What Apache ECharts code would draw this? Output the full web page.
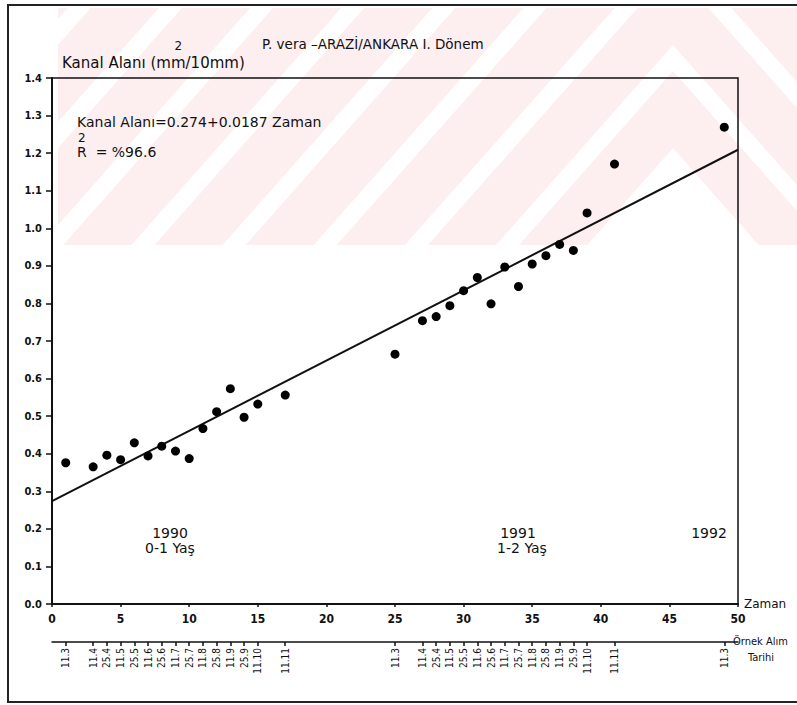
<!DOCTYPE html>
<html>
<head>
<meta charset="UTF-8">
<title>P. vera - Kanal Alanı</title>
<style>
  * { margin: 0; padding: 0; }
  body { background: #fff; }
  #chart { width: 797px; height: 705px; }
</style>
</head>
<body>
<div id="chart"></div>
<script src="https://cdn.jsdelivr.net/npm/echarts@6/dist/echarts.min.js"></script>
<script>
// zaman (örnek alım sırası) ve ölçülen kanal alanı
var times = [1, 3, 4, 5, 6, 7, 8, 9, 10, 11, 12, 13, 14, 15, 17,
  25, 27, 28, 29, 30, 31, 32, 33, 34, 35, 36, 37, 38, 39, 41, 49];
var values = [0.376, 0.365, 0.396, 0.384, 0.429, 0.394, 0.420, 0.407, 0.387, 0.467,
  0.512, 0.573, 0.497, 0.532, 0.556,
  0.665, 0.754, 0.765, 0.794, 0.834, 0.869, 0.799, 0.897, 0.845, 0.905,
  0.927, 0.957, 0.941, 1.041, 1.171, 1.269];
// örnek alım tarihleri (gün.ay)
var dates = ['11.3', '11.4', '25.4', '11.5', '25.5', '11.6', '25.6', '11.7', '25.7', '11.8',
  '25.8', '11.9', '25.9', '11.10', '11.11',
  '11.3', '11.4', '25.4', '11.5', '25.5', '11.6', '25.6', '11.7', '25.7', '11.8',
  '25.8', '11.9', '25.9', '11.10', '11.11', '11.3'];
// regresyon doğrusu uçları
var lineEnds = [[0, 0.274], [50, 1.209]];

var font = '"DejaVu Sans", sans-serif';
var narrow = '"DejaVu Sans Condensed", "DejaVu Sans", sans-serif';
var ink = '#111';

var points = times.map(function(t, i) { return [t, values[i]]; });
var dateOf = {};
times.forEach(function(t, i) { dateOf[t] = dates[i]; });

// üst simge "2" yi yerleştirmek için yazı genişliği
var ctx = document.createElement('canvas').getContext('2d');
function textW(s, size) {
  ctx.font = size + 'px ' + font;
  return ctx.measureText(s).width;
}
var yName = 'Kanal Alanı (mm/10mm)';
var supX = 62 + (textW('Kanal Alanı (m', 15) + textW('Kanal Alanı (mm', 15)) / 2;
var rX = 77 + textW('R', 14) / 2;

// arka plandaki soluk filigran (şerit desen)
var pink = '#fdeef0';
var wm = [{
  type: 'rect', silent: true, z: -20,
  shape: { x: 58, y: 8, width: 739, height: 237 },
  style: { fill: pink }
}];
var k = 1.13, ax = 673;
wm.push({
  type: 'polygon', silent: true, z: -19,
  shape: { points: [[ax, 148], [ax - 97 / k, 245], [ax + 97 / k, 245]] },
  style: { fill: '#fff' }
});
[45, -58, -161, -264, -367, -470, -573, -676].forEach(function(a) {
  var w = 26;
  wm.push({
    type: 'polygon', silent: true, z: -19,
    shape: { points: [
      [ax - (245 - a) / k, 245], [ax, a], [ax + (245 - a) / k, 245],
      [ax + (245 - a - w) / k, 245], [ax, a + w], [ax - (245 - a - w) / k, 245]
    ] },
    style: { fill: '#fff' }
  });
});

function txt(x, y, s, size, align, fam) {
  return {
    type: 'text', z: 10, x: x, y: y,
    style: {
      text: s, fill: ink, font: size + 'px ' + (fam || font),
      textAlign: align || 'left', textVerticalAlign: 'middle',
      align: align || 'left', verticalAlign: 'middle'
    }
  };
}

var myChart = echarts.init(document.getElementById('chart'), null, { renderer: 'svg' });
var option = {
  backgroundColor: '#fff',
  animation: false,
  textStyle: { fontFamily: font, color: ink },
  title: {
    text: 'P. vera –ARAZİ/ANKARA I. Dönem',
    left: 257, top: 32,
    textStyle: { fontSize: 13.5, fontWeight: 'normal', color: ink, fontFamily: font }
  },
  grid: {
    left: 52, right: 59, top: 78, bottom: 101,
    show: true, borderColor: ink, borderWidth: 1.5
  },
  xAxis: [{
    type: 'value', min: 0, max: 50, interval: 5,
    name: 'Zaman', nameLocation: 'end', nameGap: 6,
    nameTextStyle: { fontSize: 12, color: ink, verticalAlign: 'middle', padding: [0, 0, 5, 0] },
    axisLine: { lineStyle: { color: ink, width: 2 } },
    axisTick: { length: 3, lineStyle: { color: ink, width: 1.5 } },
    axisLabel: { color: ink, fontSize: 12, fontWeight: 'bold', margin: 9, fontFamily: narrow },
    splitLine: { show: false }
  }, {
    type: 'value', min: 0, max: 50, position: 'bottom', offset: 38,
    axisLine: { onZero: false, lineStyle: { color: ink, width: 1.5 } },
    axisTick: { customValues: times, length: 4, lineStyle: { color: ink, width: 1.5 } },
    axisLabel: {
      customValues: times, rotate: 90, fontSize: 10, color: ink, margin: 6, fontFamily: narrow,
      formatter: function(v) { return dateOf[v] || ''; }
    },
    splitLine: { show: false }
  }],
  yAxis: {
    type: 'value', min: 0, max: 1.4, interval: 0.1,
    name: yName, nameLocation: 'end', nameGap: 8,
    nameTextStyle: { fontSize: 15, color: ink, align: 'left', padding: [0, 0, 0, 10] },
    axisLine: { lineStyle: { color: ink, width: 2 } },
    axisTick: { length: 6, lineStyle: { color: ink, width: 1.5 } },
    axisLabel: {
      color: ink, fontSize: 11, fontWeight: 'bold', margin: 10, fontFamily: narrow,
      formatter: function(v) { return v.toFixed(1); }
    },
    splitLine: { show: false }
  },
  graphic: wm.concat([
    {
      type: 'rect', silent: true, z: 5,
      shape: { x: 8, y: 5, width: 800, height: 697 },
      style: { fill: 'none', stroke: '#222', lineWidth: 2 }
    },
    txt(supX, 46, '2', 12, 'center'),
    txt(77, 122, 'Kanal Alanı=0.274+0.0187 Zaman', 14),
    txt(77, 152, 'R  = %96.6', 14),
    txt(rX, 138, '2', 12, 'center'),
    txt(170, 533, '1990', 14, 'center'),
    txt(170, 548, '0-1 Yaş', 14, 'center'),
    txt(518, 533, '1991', 14, 'center'),
    txt(522, 548, '1-2 Yaş', 14, 'center'),
    txt(709, 533, '1992', 14, 'center'),
    txt(733, 641, 'Örnek Alım', 11, 'left', narrow),
    txt(761, 657, 'Tarihi', 11, 'center', narrow)
  ]),
  series: [{
    type: 'scatter',
    data: points,
    symbolSize: 9,
    itemStyle: { color: '#000', opacity: 1 },
    z: 3
  }, {
    type: 'line',
    data: lineEnds,
    symbol: 'none',
    lineStyle: { color: ink, width: 2 },
    z: 2
  }]
};
myChart.setOption(option);
</script>
</body>
</html>
